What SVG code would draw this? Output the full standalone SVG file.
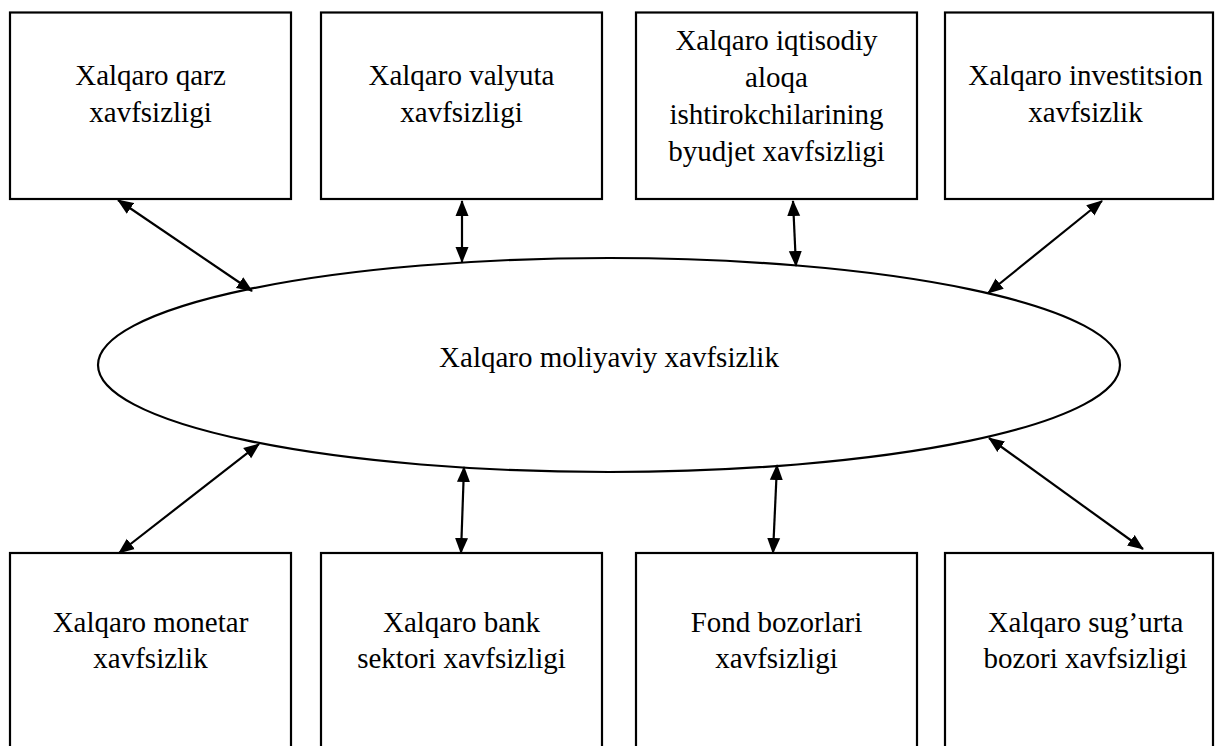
<svg xmlns="http://www.w3.org/2000/svg" width="1215" height="746" viewBox="0 0 1215 746">
<style>
.box{fill:#fff;stroke:#000;stroke-width:2.2}
.ell{fill:#fff;stroke:#000;stroke-width:2.2}
.t{font-family:"Liberation Serif","Times New Roman",serif;font-size:29px;fill:#000;text-anchor:middle}
.c{stroke:#000;stroke-width:2.2;fill:none;marker-start:url(#ah);marker-end:url(#ah)}
</style>
<defs>
<marker id="ah" markerUnits="userSpaceOnUse" markerWidth="16" markerHeight="14" refX="15" refY="6.5" orient="auto-start-reverse" viewBox="0 0 16 13">
<path d="M0,0 L16,6.5 L0,13 z" fill="#000"/>
</marker>
</defs>
<rect width="1215" height="746" fill="#fff"/>
<g id="n-center">
<ellipse class="ell" cx="609" cy="365" rx="511" ry="107"/>
<text class="t" x="609" y="367">Xalqaro moliyaviy xavfsizlik</text>
</g>
<g id="n-qarz">
<rect class="box" x="10" y="12.5" width="281" height="186.5"/>
<text class="t" x="150.5" y="85">Xalqaro qarz</text>
<text class="t" x="150.5" y="122">xavfsizligi</text>
</g>
<g id="n-valyuta">
<rect class="box" x="321" y="12.5" width="281" height="186.5"/>
<text class="t" x="461.5" y="85">Xalqaro valyuta</text>
<text class="t" x="461.5" y="122">xavfsizligi</text>
</g>
<g id="n-byudjet">
<rect class="box" x="636" y="12.5" width="281" height="186.5"/>
<text class="t" x="776.5" y="50">Xalqaro iqtisodiy</text>
<text class="t" x="776.5" y="87">aloqa</text>
<text class="t" x="776.5" y="124">ishtirokchilarining</text>
<text class="t" x="776.5" y="161">byudjet xavfsizligi</text>
</g>
<g id="n-invest">
<rect class="box" x="945" y="12.5" width="268" height="186.5"/>
<text class="t" x="1085.5" y="85">Xalqaro investitsion</text>
<text class="t" x="1085.5" y="122">xavfsizlik</text>
</g>
<g id="n-monetar">
<rect class="box" x="10" y="553" width="281" height="210"/>
<text class="t" x="150.5" y="632">Xalqaro monetar</text>
<text class="t" x="150.5" y="668">xavfsizlik</text>
</g>
<g id="n-bank">
<rect class="box" x="321" y="553" width="281" height="210"/>
<text class="t" x="461.5" y="632">Xalqaro bank</text>
<text class="t" x="461.5" y="668">sektori xavfsizligi</text>
</g>
<g id="n-fond">
<rect class="box" x="636" y="553" width="281" height="210"/>
<text class="t" x="776.5" y="632">Fond bozorlari</text>
<text class="t" x="776.5" y="668">xavfsizligi</text>
</g>
<g id="n-sugurta">
<rect class="box" x="945" y="553" width="268" height="210"/>
<text class="t" x="1085.5" y="632">Xalqaro sug’urta</text>
<text class="t" x="1085.5" y="668">bozori xavfsizligi</text>
</g>
<g id="connectors">
<line class="c" x1="118" y1="200" x2="252" y2="291"/>
<line class="c" x1="462" y1="201" x2="462" y2="262"/>
<line class="c" x1="793" y1="201" x2="796" y2="266"/>
<line class="c" x1="1102" y1="201" x2="988" y2="293"/>
<line class="c" x1="259" y1="444" x2="119" y2="553"/>
<line class="c" x1="464" y1="467" x2="461" y2="553"/>
<line class="c" x1="777" y1="465" x2="773" y2="553"/>
<line class="c" x1="989" y1="438" x2="1143" y2="549"/>
</g>
</svg>
